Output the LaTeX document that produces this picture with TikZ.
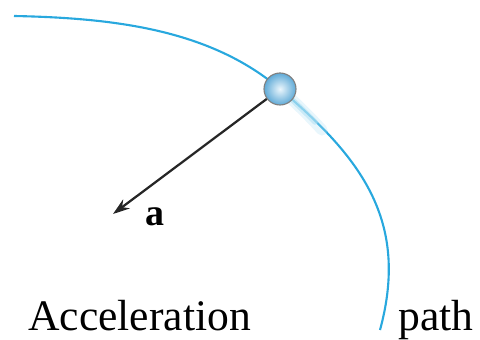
\documentclass[tikz,border=0pt]{standalone}
\usepackage{fontspec}
\setmainfont{Liberation Serif}
\usetikzlibrary{arrows.meta, positioning}
\definecolor{pathblue}{RGB}{40,168,222}
\definecolor{ballblue}{RGB}{95,170,215}
\definecolor{balllight}{RGB}{235,246,252}

\begin{document}
\begin{tikzpicture}[
    x=0.025cm, y=0.025cm,
    particle/.style={circle, draw=black!50, line width=0.8pt, inner color=balllight, outer color=ballblue,
                     minimum size=0.8cm, inner sep=0pt},
    track/.style={pathblue, line width=1.5pt},
    glow/.style={pathblue!35, line cap=round},
    vec/.style={-{Stealth[length=12pt, width=8pt]}, line width=1.6pt, black!85},
    lbl/.style={font=\fontsize{31}{36}\selectfont, inner sep=0pt, anchor=base west},
]
    \useasboundingbox (0,0) rectangle (480,340);

    % the curved path
    \draw[track] (14,324) .. controls (114,322) and (210,310.5) .. (280,251)
                          .. controls (360,183) and (410,120) .. (380,10);

    % blurred streak behind the particle
    \draw[glow, line width=8pt, opacity=0.3] (288,244) .. controls (300,233) and (310,223) .. (322,210);
    \draw[glow, line width=4pt, opacity=0.6] (288,244) .. controls (298,235) and (306,227) .. (315,218);

    \node[particle] (ball) at (280,251) {};

    \coordinate (tip) at (113,126);
    \draw[vec] (ball) -- (tip);

    \node[lbl, font=\bfseries\fontsize{27}{30}\selectfont] (accel) at (145,114) {a};

    \node[lbl] (acclabel) at (28,9) {Acceleration};
    \node[lbl] (pathlabel) at (398,9) {path};
\end{tikzpicture}
\end{document}
